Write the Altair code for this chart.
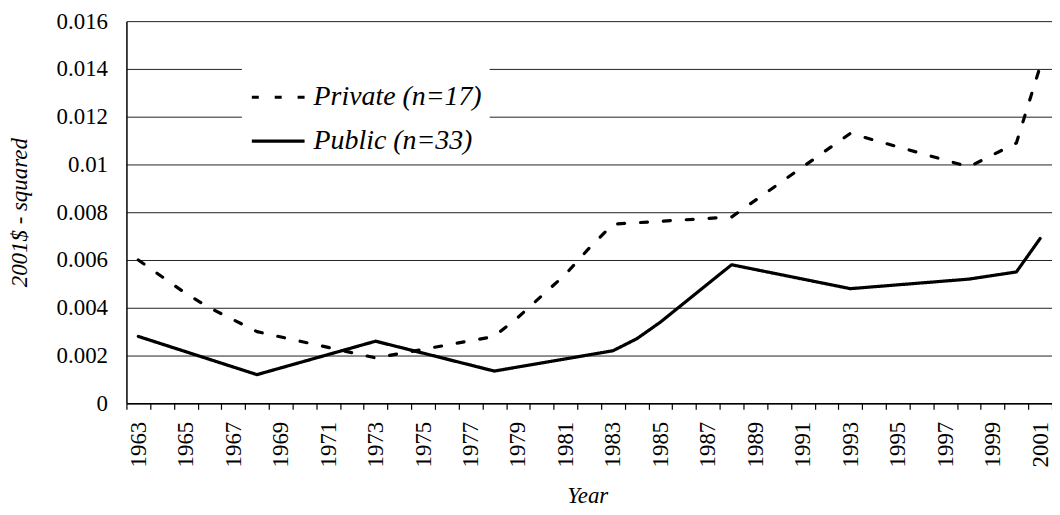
import altair as alt
import pandas as pd

# ---- data ----
years_all = list(range(1963, 2002))
series_labels = ["Private (n=17)", "Public (n=33)"]

private_years = [1963, 1964, 1965, 1966, 1967, 1968, 1973, 1978, 1979, 1980,
                 1981, 1982, 1983, 1988, 1993, 1998, 2000, 2001]
private_vals = [0.0060, 0.0053, 0.0046, 0.0040, 0.0035, 0.0030, 0.0019, 0.0028,
                0.0036, 0.0045, 0.0054, 0.0065, 0.0075, 0.0078, 0.0113, 0.0099,
                0.0109, 0.0141]

public_years = [1963, 1968, 1973, 1978, 1983, 1984, 1985, 1986, 1987, 1988,
                1993, 1998, 2000, 2001]
public_vals = [0.0028, 0.0012, 0.0026, 0.00135, 0.0022, 0.0027, 0.0034, 0.0042,
               0.0050, 0.0058, 0.0048, 0.0052, 0.0055, 0.0069]

y_ticks = [0, 0.002, 0.004, 0.006, 0.008, 0.010, 0.012, 0.014, 0.016]

rows = [{"Year": y, "value": v, "series": series_labels[0]}
        for y, v in zip(private_years, private_vals)]
rows += [{"Year": y, "value": v, "series": series_labels[1]}
         for y, v in zip(public_years, public_vals)]
df = pd.DataFrame(rows)

FONT = "'Liberation Serif', 'Times New Roman', Times, serif"
W, H = 930, 384

chart = alt.Chart(df).mark_line(
    color="black", strokeWidth=3.2, strokeCap="round", strokeJoin="round"
).encode(
    x=alt.X(
        "Year:O",
        bandPosition=0.5,
        scale=alt.Scale(type="band", domain=years_all, paddingInner=0, paddingOuter=0),
        axis=alt.Axis(
            title="Year",
            labelAngle=-90,
            tickBand="extent",
            labelExpr="datum.value % 2 == 1 ? datum.label : ''",
            labelFont=FONT, labelFontSize=23, labelColor="black",
            labelPadding=12,
            ticks=True, tickSize=6, tickColor="black", tickWidth=1.2,
            domainColor="black", domainWidth=1.5,
            grid=False,
            titleFont=FONT, titleFontSize=23, titleFontStyle="italic",
            titleFontWeight="normal", titleColor="black",
            titleX=W / 2 - 2, titleY=100, titleBaseline="alphabetic", titleAlign="center",
        ),
    ),
    y=alt.Y(
        "value:Q",
        scale=alt.Scale(domain=[0, 0.016], nice=False, zero=True),
        axis=alt.Axis(
            title="2001$ - squared",
            values=y_ticks,
            format="~g",
            labelFont=FONT, labelFontSize=23, labelColor="black",
            labelPadding=19,
            ticks=False,
            domainColor="black", domainWidth=1.5,
            grid=True, gridColor="#222222", gridWidth=1,
            titleFont=FONT, titleFontSize=23, titleFontStyle="italic",
            titleFontWeight="normal", titleColor="black",
            titleX=-107, titleY=H / 2, titleAngle=-90,
            titleAlign="center", titleBaseline="middle",
        ),
    ),
    strokeDash=alt.StrokeDash(
        "series:N",
        scale=alt.Scale(domain=series_labels, range=[[7, 16], [1, 0]]),
        legend=alt.Legend(
            title=None,
            orient="none", legendX=116, legendY=40,
            fillColor="white", padding=8,
            symbolType="stroke", symbolSize=2809, symbolStrokeWidth=3.2,
            symbolStrokeColor="black",
            labelFont=FONT, labelFontSize=28, labelFontStyle="italic",
            labelColor="black", labelLimit=400, labelOffset=7,
            rowPadding=1,
        ),
    ),
).properties(
    width=W,
    height=H,
    autosize=alt.AutoSizeParams(type="none"),
    padding={"left": 119, "top": 12, "right": 0, "bottom": 107},
).configure_view(stroke=None)

chart.save("out.html", embed_options={"renderer": "svg", "actions": False})
